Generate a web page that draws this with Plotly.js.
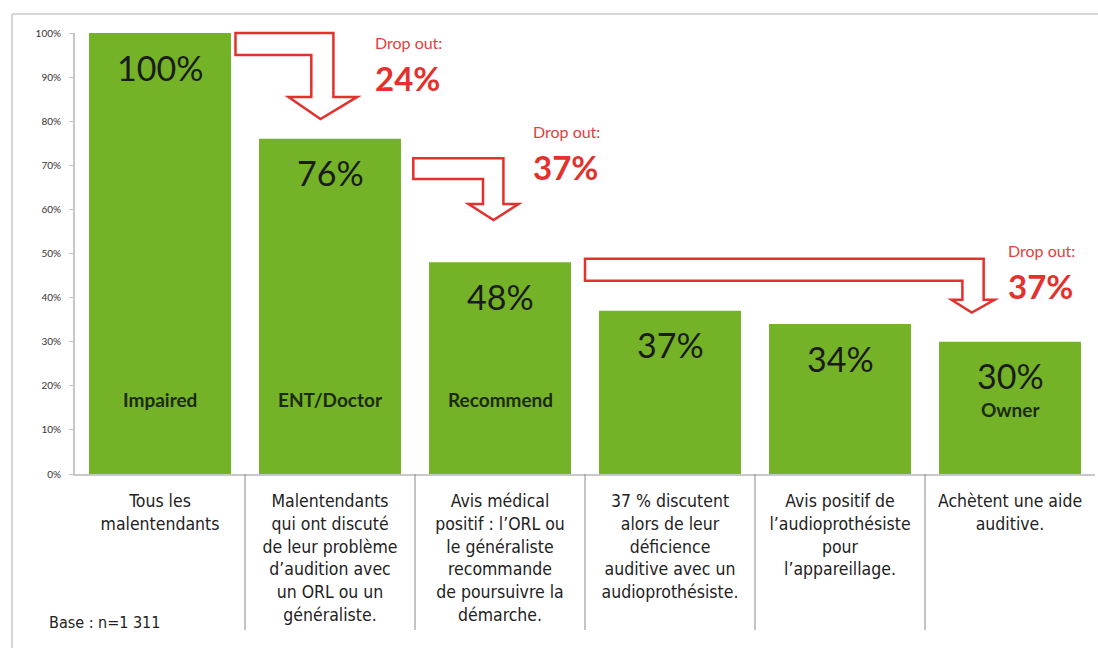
<!DOCTYPE html>
<html>
<head>
<meta charset="utf-8">
<script src="https://cdn.plot.ly/plotly-3.0.1.min.js"></script>
<style>html,body{margin:0;padding:0;background:#fff;}#chart{width:1098px;height:648px;}</style>
</head>
<body>
<div id="chart"></div>
<script>
// ---- data ----
var categories = [
  "Tous les<br>malentendants",
  "Malentendants<br>qui ont discuté<br>de leur problème<br>d’audition avec<br>un ORL ou un<br>généraliste.",
  "Avis médical<br>positif : l’ORL ou<br>le généraliste<br>recommande<br>de poursuivre la<br>démarche.",
  "37 % discutent<br>alors de leur<br>déficience<br>auditive avec un<br>audioprothésiste.",
  "Avis positif de<br>l’audioprothésiste<br>pour<br>l’appareillage.",
  "Achètent une aide<br>auditive."
];
var values = [100, 76, 48, 37, 34, 30];
var valueLabels = ["100%", "76%", "48%", "37%", "34%", "30%"];
var stageNames = ["Impaired", "ENT/Doctor", "Recommend", "", "", "Owner"];
var dropOut = [24, 37, 37];
var yTickVals = [0,10,20,30,40,50,60,70,80,90,100];
var yTickText = ["0%","10%","20%","30%","40%","50%","60%","70%","80%","90%","100%"];
var baseNote = "Base : n=1 311";

// ---- layout helpers ----
var L = 75, R = 1095, T = 33, B = 474;
var W = R - L, H = B - T;
var nCat = categories.length;
function pxX(px){ return (px - L) / W; }
function pxY(py){ return (B - py) / H; }
function idxX(i){ return (i + 0.5) / nCat; }   // category index -> paper x

var GREEN = "#74b228";
var RED = "#e3312d";
var condensed = "'Liberation Sans Narrow', 'Arial Narrow', 'DejaVu Sans Condensed', sans-serif";
var sans = "Lato, 'Open Sans', sans-serif";

var trace = {
  type: "bar",
  x: categories,
  y: values,
  marker: {color: GREEN},
  hoverinfo: "none"
};

var annotations = [];
// value labels on top of bars, stage names inside bars
for (var i = 0; i < nCat; i++) {
  annotations.push({
    x: categories[i], y: values[i], xref: "x", yref: "y",
    text: valueLabels[i], showarrow: false, yanchor: "middle", yshift: -34,
    font: {family: sans, size: 34, color: "#1b1b1b"}
  });
  if (stageNames[i]) {
    annotations.push({
      x: categories[i], y: stageNames[i] === "Owner" ? 14.7 : 16.8, xref: "x", yref: "y",
      text: "<b>" + stageNames[i] + "</b>", showarrow: false, yanchor: "middle",
      font: {family: sans, size: 19, color: "#1c2a0c"}
    });
  }
}

// drop-out texts: [left x, boundary y between the two lines]
var dropPos = [[373, 55], [531, 144], [1006, 263]];
for (var k = 0; k < dropOut.length; k++) {
  annotations.push({
    x: pxX(dropPos[k][0]), y: pxY(dropPos[k][1] - 1), xref: "paper", yref: "paper",
    xanchor: "left", yanchor: "bottom", showarrow: false,
    text: "Drop out:", font: {family: sans, size: 16, color: "#e0413c"}
  });
  annotations.push({
    x: pxX(dropPos[k][0]), y: pxY(dropPos[k][1] + 1), xref: "paper", yref: "paper",
    xanchor: "left", yanchor: "top", showarrow: false,
    text: "<b>" + dropOut[k] + "%</b>", font: {family: sans, size: 33, color: RED}
  });
}

// base note
annotations.push({
  x: pxX(47), y: pxY(622), xref: "paper", yref: "paper",
  xanchor: "left", yanchor: "middle", showarrow: false,
  text: baseNote, font: {family: condensed, size: 16, color: "#222"}
});

// ---- shapes ----
var shapes = [];
// outer frame (top and left lines)
shapes.push({type: "line", xref: "paper", yref: "paper", x0: pxX(12), x1: pxX(1100), y0: pxY(14), y1: pxY(14), line: {color: "#d6d6d6", width: 2}});
shapes.push({type: "line", xref: "paper", yref: "paper", x0: pxX(12), x1: pxX(12), y0: pxY(14), y1: pxY(650), line: {color: "#d6d6d6", width: 2}});
// category dividers below axis
for (var d = 0; d < nCat - 1; d++) {
  var xb = (d + 1) / nCat;
  shapes.push({type: "line", xref: "paper", yref: "paper", x0: xb, x1: xb, y0: 0, y1: pxY(630), line: {color: "#8a8a8a", width: 1}});
}

// arrows: geometry in category-index units (x) and value units (y)
function arrowPath(g) {
  var P = function(ix, v){ return idxX(ix).toFixed(5) + "," + (v / 100).toFixed(5); };
  var pts = [
    P(g.x0, g.top), P(g.xr, g.top), P(g.xr, g.stemBot), P(g.hr, g.stemBot),
    P(g.tip, g.tipY), P(g.hl, g.stemBot), P(g.sl, g.stemBot), P(g.sl, g.bot), P(g.x0, g.bot)
  ];
  return "M" + pts.join(" L") + " Z";
}
var arrows = [
  {x0: 0.444, xr: 1.02, sl: 0.89, top: 100, bot: 95, stemBot: 85.5, hl: 0.756, hr: 1.16, tip: 0.944, tipY: 80.5},
  {x0: 1.49, xr: 2.02, sl: 1.90, top: 71.6, bot: 66.9, stemBot: 61.2, hl: 1.815, hr: 2.109, tip: 1.962, tipY: 57.6},
  {x0: 2.50, xr: 4.845, sl: 4.72, top: 48.8, bot: 43.8, stemBot: 39.5, hl: 4.656, hr: 4.909, tip: 4.775, tipY: 36.6}
];
arrows.forEach(function(g){
  shapes.push({type: "path", xref: "paper", yref: "paper", path: arrowPath(g),
    fillcolor: "rgba(0,0,0,0)", line: {color: RED, width: 2.5}});
});

var layout = {
  width: 1098, height: 648,
  margin: {l: L, r: 1098 - R, t: T, b: 648 - B, pad: 0},
  paper_bgcolor: "#fff", plot_bgcolor: "#fff",
  showlegend: false,
  bargap: 0.165,
  xaxis: {
    type: "category", range: [-0.5, nCat - 0.5], fixedrange: true,
    showline: true, linecolor: "#c8c8c8", linewidth: 2,
    ticks: "outside", ticklen: 10, tickcolor: "rgba(0,0,0,0)",
    tickfont: {family: condensed, size: 17.5, color: "#222"},
    showgrid: false, zeroline: false
  },
  yaxis: {
    range: [0, 100], fixedrange: true,
    tickvals: yTickVals, ticktext: yTickText,
    showline: true, linecolor: "#c8c8c8", linewidth: 2,
    ticks: "outside", ticklen: 4, tickcolor: "#c8c8c8",
    ticklabelstandoff: 6,
    tickfont: {family: sans, size: 10, color: "#333"},
    showgrid: false, zeroline: false
  },
  annotations: annotations,
  shapes: shapes
};

Plotly.newPlot("chart", [trace], layout, {displayModeBar: false, staticPlot: true});
</script>
</body>
</html>
